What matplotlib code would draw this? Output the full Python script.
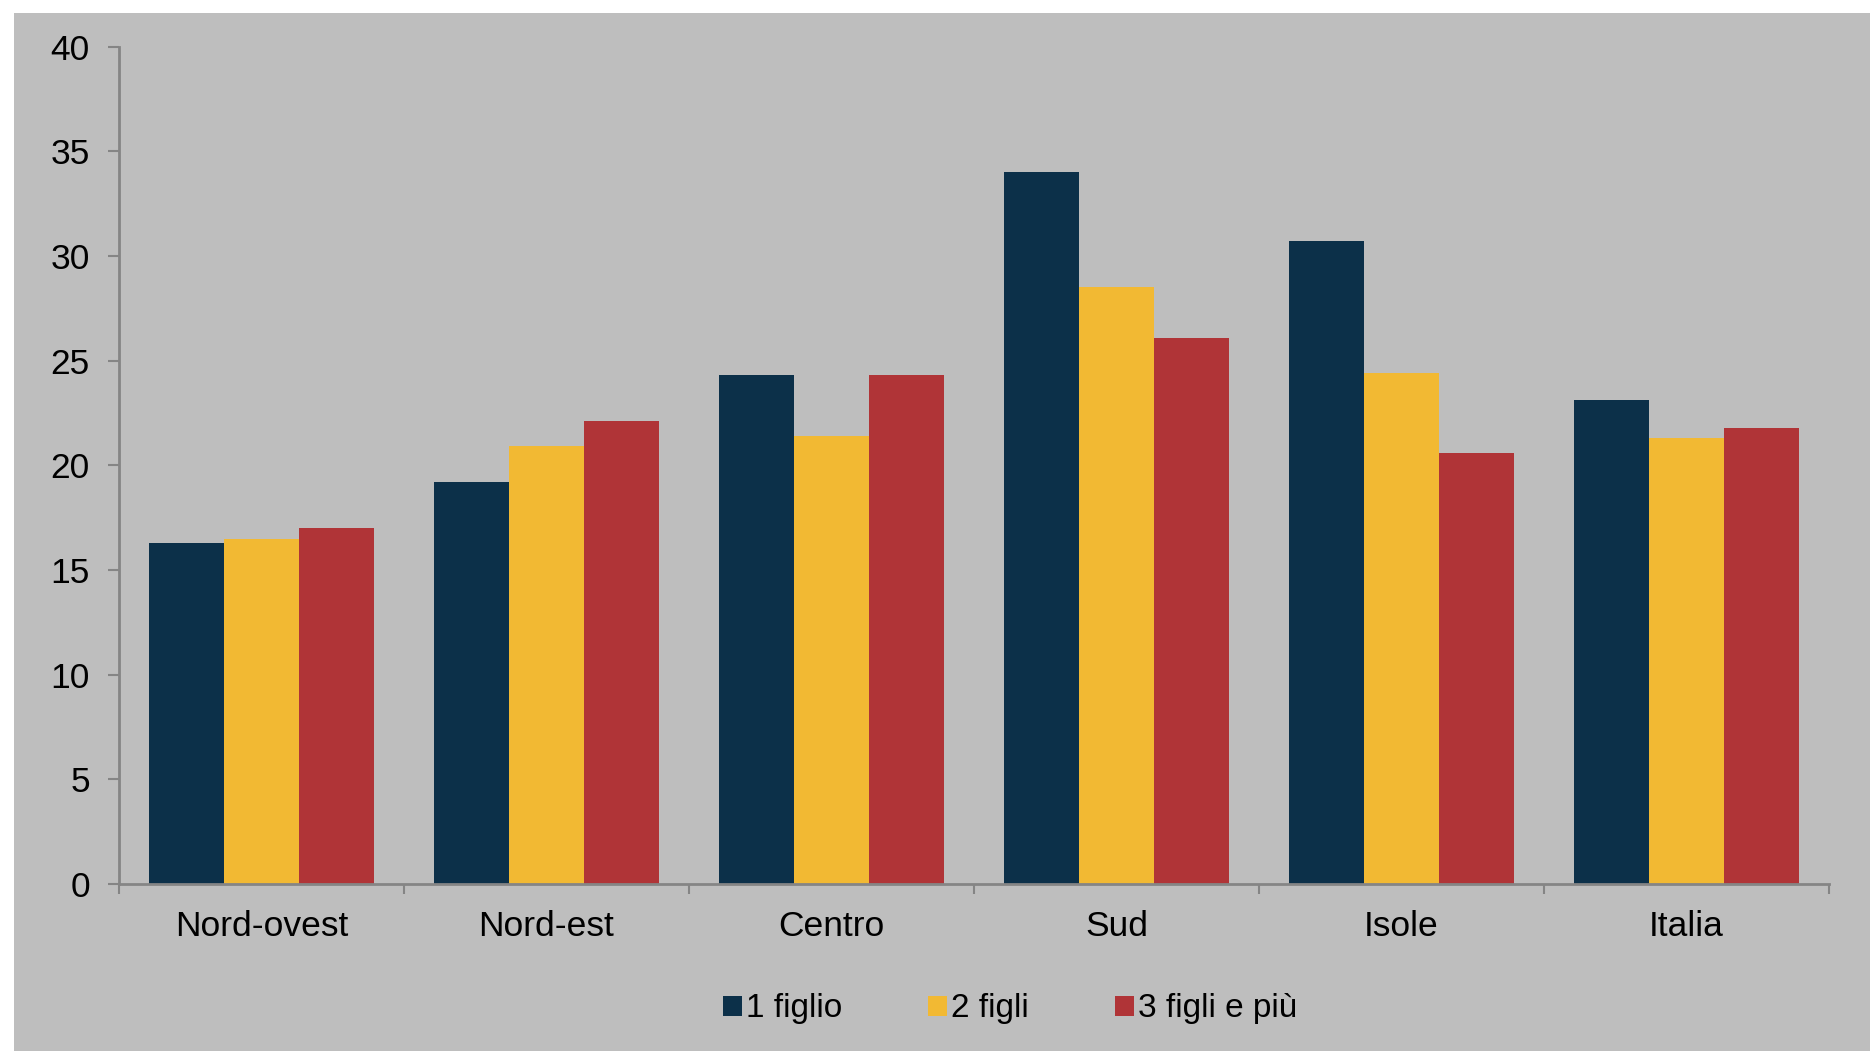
import matplotlib.pyplot as plt
import matplotlib.patches as mpatches
import numpy as np

plt.rcParams['font.family'] = ['Liberation Sans', 'DejaVu Sans']

# dati
regioni = ['Nord-ovest', 'Nord-est', 'Centro', 'Sud', 'Isole', 'Italia']
figlio1 = [16.3, 19.2, 24.3, 34.0, 30.7, 23.1]
figli2 = [16.5, 20.9, 21.4, 28.5, 24.4, 21.3]
figli3 = [17.0, 22.1, 24.3, 26.1, 20.6, 21.8]
serie = ['1 figlio', '2 figli', '3 figli e più']
colori = ['#0c3049', '#f2b933', '#b03437']

sfondo = '#bebebe'
grigio = '#858585'

fig = plt.figure(figsize=(18.70, 10.51), dpi=100)
fig.patch.set_facecolor('white')
# riquadro grigio (margine bianco in alto e a sinistra)
fig.patches.append(mpatches.Rectangle((14 / 1870, 0), 1, 1 - 13 / 1051,
                                      transform=fig.transFigure,
                                      facecolor=sfondo, edgecolor='none', zorder=-10))

ax = fig.add_axes([119 / 1870, 1 - 884 / 1051, (1829 - 119) / 1870, (884 - 46.5) / 1051])
ax.set_facecolor('none')
ax.set_zorder(5)

x = np.arange(len(regioni))
w = 0.263
for i, (vals, nome) in enumerate(zip([figlio1, figli2, figli3], serie)):
    ax.bar(x + (i - 1) * w, vals, width=w, color=colori[i], label=nome, zorder=2)

ax.set_xlim(-0.5, len(regioni) - 0.5)
ax.set_ylim(0, 40)
ax.set_yticks(range(0, 41, 5))

# tick delle categorie sui bordi
ax.set_xticks(np.arange(-0.5, len(regioni)), minor=False)
ax.set_xticklabels([])
ax.set_xticks(x, minor=True)
ax.set_xticklabels(regioni, minor=True)
ax.tick_params(axis='x', which='minor', length=0, pad=19, labelsize=25.5)
ax.tick_params(axis='x', which='major', length=7, width=1.5, color=grigio, direction='out')
ax.tick_params(axis='y', length=8, width=1.5, color=grigio, pad=13, labelsize=25.5)

for s in ['top', 'right']:
    ax.spines[s].set_visible(False)
for s in ['left', 'bottom']:
    ax.spines[s].set_color(grigio)
    ax.spines[s].set_linewidth(2)

fig.legend(loc='center', bbox_to_anchor=(1010 / 1870, 1 - 1009 / 1051), ncol=3,
           frameon=False, fontsize=24, handlelength=0.55, handleheight=0.55,
           handletextpad=0.12, columnspacing=2.6)

plt.savefig('out.png', dpi=100, facecolor=fig.get_facecolor())
